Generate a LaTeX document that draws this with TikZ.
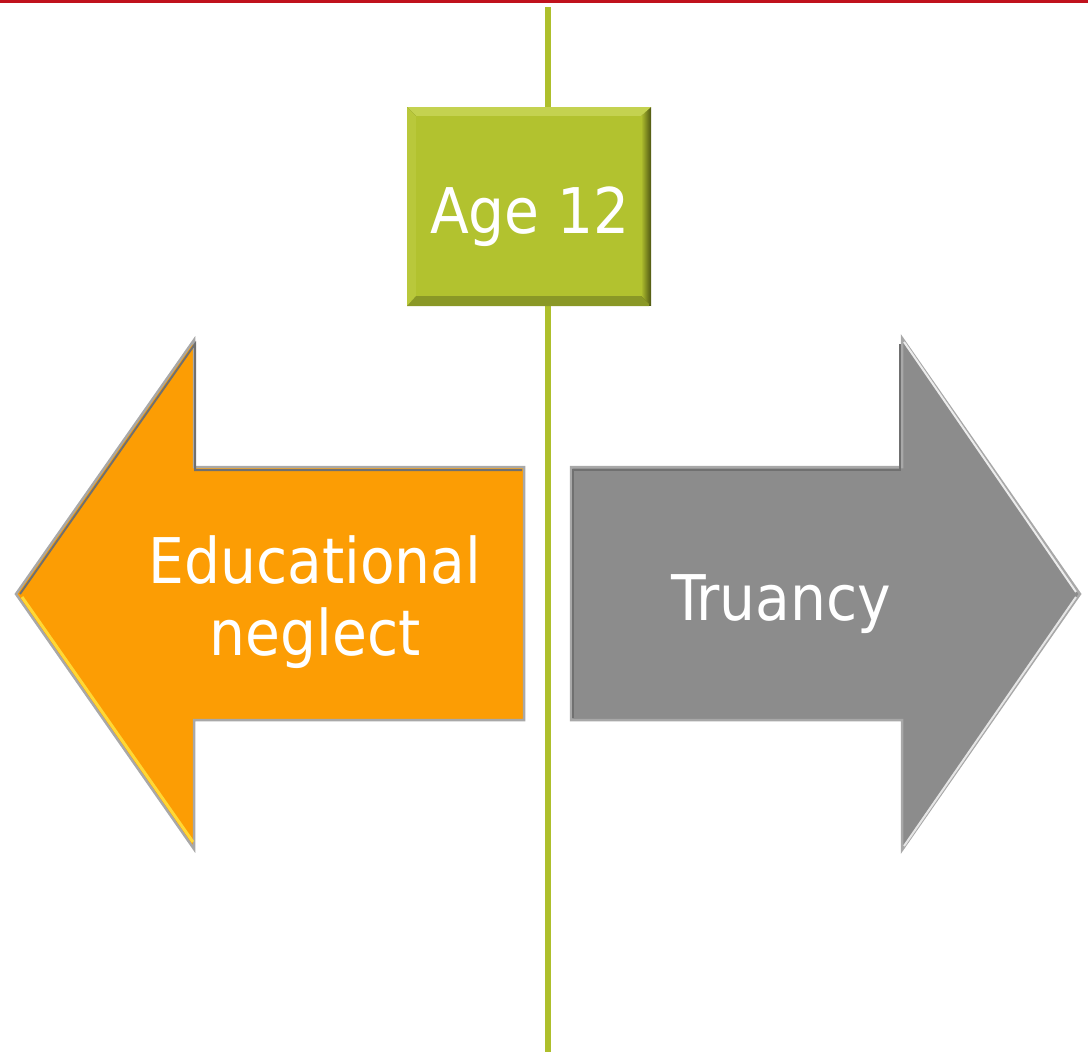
\documentclass[tikz,border=0pt]{standalone}
\usepackage{fontspec}
\newfontfamily\vfont{DejaVu Sans Condensed}
\definecolor{topred}{HTML}{C0121D}
\definecolor{lineGreen}{HTML}{AEBF2C}
\definecolor{boxGreen}{HTML}{B2C22F}
\definecolor{boxLight}{HTML}{C4D250}
\definecolor{boxLeft}{HTML}{B9C83B}
\definecolor{boxDark}{HTML}{4E5612}
\definecolor{boxBottom}{HTML}{8A9826}
\definecolor{arrOrange}{HTML}{FC9D04}
\definecolor{arrGray}{HTML}{8C8C8C}
\definecolor{edgeGray}{HTML}{A8A8A8}
\definecolor{edgeDark}{HTML}{707070}
\definecolor{hiYellow}{HTML}{FFD835}
\tikzset{
  x=1pt, y=1pt,
  vline/.style={draw=lineGreen, line width=6pt},
  lbl/.style={text=white, font=\vfont\fontsize{63}{72}\selectfont, inner sep=0pt, align=center},
  arrowedge/.style={draw=edgeGray, line width=2.5pt, line join=miter},
}
\begin{document}
\begin{tikzpicture}
\useasboundingbox (0,0) rectangle (1088,-1052);
% top red rule
\fill[topred] (0,0) rectangle (1088,-2.5);
% vertical line
\coordinate (ltop) at (548,-7);
\coordinate (lbot) at (548,-1052);
\draw[vline] (ltop) -- (lbot);

% ---- left (orange) arrow
\path[arrowedge, fill=arrOrange]
  (16,-594) -- (194,-340) -- (194,-467) -- (524,-467) -- (524,-720)
  -- (194,-720) -- (194,-849) -- cycle;
\draw[edgeDark, line width=2pt] (20,-594) -- (195,-344) -- (195,-470) -- (522,-470);
\draw[hiYellow, line width=3pt] (22,-597) -- (193,-842);
% ---- right (gray) arrow
\path[arrowedge, fill=arrGray]
  (1080,-594) -- (902,-338) -- (902,-467) -- (571,-467) -- (571,-720)
  -- (902,-720) -- (902,-850) -- cycle;
\draw[edgeDark, line width=2pt] (573,-718) -- (573,-470) -- (900,-470) -- (900,-344);
\draw[white!85!gray, line width=2pt] (904,-342) -- (1076,-592);
\draw[white!80!gray, line width=2pt] (1076,-597) -- (904,-846);

% ---- green bevel box
\fill[boxDark] (407,-107) rectangle (651,-306);
\shade[left color=boxGreen, right color=boxDark] (641,-116) -- (651,-107) -- (651,-306) -- (641,-296) -- cycle;
\fill[boxBottom] (407,-306) -- (416,-296) -- (641,-296) -- (649,-304) -- (649,-306) -- cycle;
\fill[boxLight] (407,-107) -- (651,-107) -- (641,-116) -- (416,-116) -- cycle;
\fill[boxLeft] (407,-107) -- (416,-116) -- (416,-296) -- (407,-306) -- cycle;
\fill[boxGreen] (416,-116) rectangle (641,-296);
\node[lbl, anchor=base] (age) at (530,-233) {Age 12};

% ---- labels
\node[lbl, anchor=base] (edu) at (315,-583) {Educational};
\node[lbl, anchor=base] (neg) at (315,-655) {neglect};
\node[lbl, anchor=base] (tru) at (781,-620) {Truancy};
\end{tikzpicture}
\end{document}
